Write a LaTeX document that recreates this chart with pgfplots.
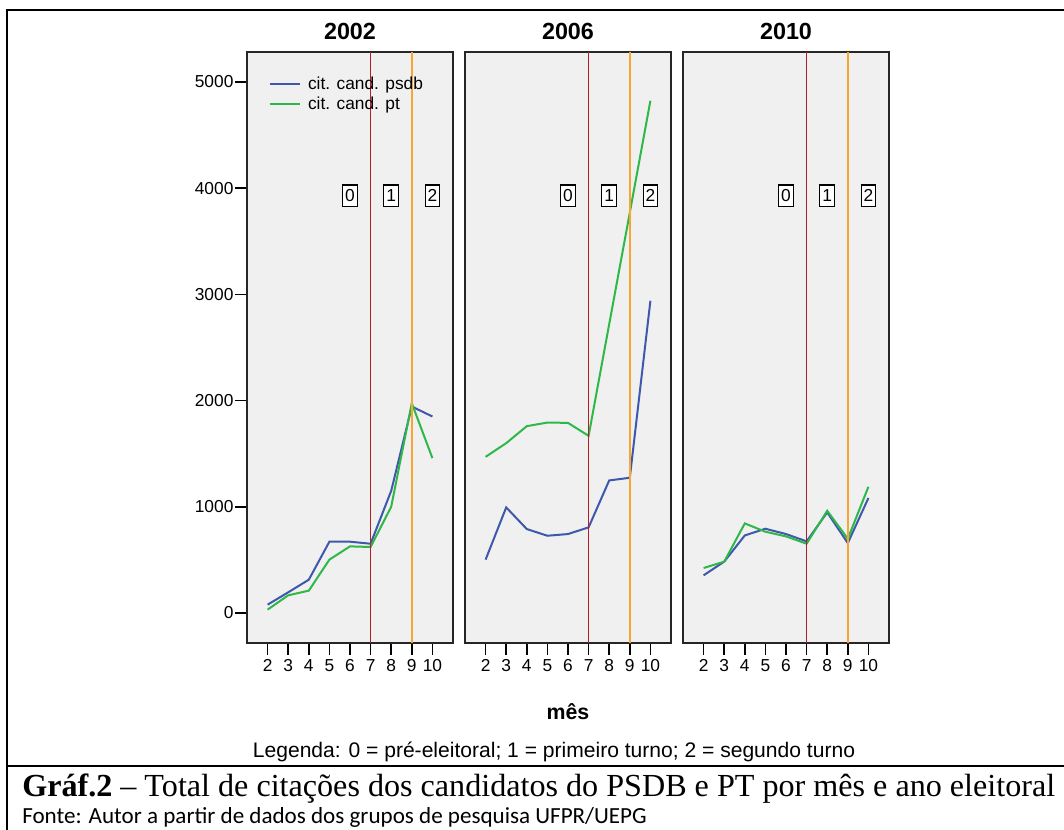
\documentclass[border=0pt]{standalone}
\usepackage{pgfplots}
\pgfplotsset{compat=1.18}
\usepackage{fontspec}
\setmainfont{Liberation Sans}
\newfontfamily\capserif{Liberation Serif}
\newfontfamily\calib{Carlito}
\definecolor{psdb}{RGB}{62,88,172}
\definecolor{ptc}{RGB}{46,184,72}
\definecolor{vred}{RGB}{178,30,36}
\definecolor{vorange}{RGB}{248,165,50}
\definecolor{panelbg}{RGB}{240,240,240}

\pgfplotstableread{
mes psdb pt
2 78 31
3 194 166
4 313 210
5 671 502
6 671 627
7 652 621
8 1150 1000
9 1944 1975
10 1850 1458
}\tabA
\pgfplotstableread{
mes psdb pt
2 502 1470
3 994 1599
4 790 1759
5 727 1793
6 743 1790
7 806 1668
8 1248 2720
9 1273 3770
10 2940 4824
}\tabB
\pgfplotstableread{
mes psdb pt
2 354 423
3 483 483
4 730 843
5 793 765
6 743 721
7 674 652
8 947 962
9 658 699
10 1082 1188
}\tabC

\pgfplotsset{panel/.style={
  scale only axis, width=154.5pt, height=443.25pt,
  xmin=1, xmax=11, ymin=-283, ymax=5283,
  axis background/.style={fill=panelbg},
  axis line style={line width=1.1pt, black!85},
  xtick={2,...,10},
  tick align=outside, major tick length=9pt,
  every tick/.style={black, line width=1.2pt},
  xtick pos=bottom, ytick pos=left,
  /pgf/number format/assume math mode=true,
  /pgf/number format/1000 sep={},
  ticklabel style={font=\fontsize{13}{13}\selectfont},
  yticklabel style={inner sep=1pt},
  title style={at={(0.5,1)}, anchor=base, yshift=3.5pt, font=\fontsize{17.5}{17.5}\selectfont\bfseries},
  every axis plot/.append style={line width=1.5pt, mark=none},
  anchor=south west,
}}
\tikzset{segbox/.style={draw=black, fill=white, line width=0.8pt, inner sep=0pt,
      minimum width=11pt, minimum height=16pt, font=\fontsize{13}{13}\selectfont}}

\newcommand{\panelextras}{%
  \draw[vred, line width=1.1pt] (axis cs:7,-283) -- (axis cs:7,5283);
  \draw[vorange, line width=1.1pt] (axis cs:9,-283) -- (axis cs:9,5283);
  \node[segbox] at (axis cs:6,3930) {0};
  \node[segbox] at (axis cs:8,3930) {1};
  \node[segbox] at (axis cs:10,3930) {2};
}

\begin{document}
\begin{tikzpicture}
\useasboundingbox (0pt,0pt) rectangle (798pt,622.5pt);
% frame
\draw[line width=1.5pt] (5.25pt,-5pt) -- (5.25pt,615pt) -- (810pt,615pt);
\draw[line width=1.5pt] (5.25pt,48pt) -- (810pt,48pt);

\begin{axis}[panel, at={(185.25pt,140.25pt)}, title={2002},
  ytick={0,1000,...,5000},
  legend style={at={(0.104,0.961)}, anchor=north west, draw=none, fill=none,
    font=\fontsize{13}{13}\selectfont, inner sep=0pt, row sep=2pt,
    nodes={inner sep=1pt}},
  legend cell align=left,
  legend image code/.code={\draw[#1] (0pt,0pt) -- (23pt,0pt); \path (27pt,0pt);}]
\addplot[psdb] table[x=mes, y=psdb] {\tabA};
\addlegendentry{cit. cand. psdb}
\addplot[ptc] table[x=mes, y=pt] {\tabA};
\addlegendentry{cit. cand. pt}
\panelextras
\end{axis}

\begin{axis}[panel, at={(348.75pt,140.25pt)}, title={2006}, ytick=\empty]
\addplot[psdb] table[x=mes, y=psdb] {\tabB};
\addplot[ptc] table[x=mes, y=pt] {\tabB};
\panelextras
\end{axis}

\begin{axis}[panel, at={(512.25pt,140.25pt)}, title={2010}, ytick=\empty]
\addplot[psdb] table[x=mes, y=psdb] {\tabC};
\addplot[ptc] table[x=mes, y=pt] {\tabC};
\panelextras
\end{axis}

\node[font=\fontsize{16}{16}\selectfont\bfseries] at (426pt,88.5pt) {mês};
\node[anchor=base, font=\fontsize{15.8}{15.8}\selectfont] at (415.5pt,54pt)
  {Legenda: 0 = pré-eleitoral; 1 = primeiro turno; 2 = segundo turno};
\node[anchor=base west, inner sep=0pt, font=\capserif\fontsize{24.1}{24.1}\selectfont] at (16.5pt,24.75pt)
  {\textbf{Gráf.2} – Total de citações dos candidatos do PSDB e PT por mês e ano eleitoral};
\node[anchor=base west, inner sep=0pt, font=\calib\fontsize{17.3}{17.3}\selectfont] at (16.5pt,4.5pt)
  {Fonte: Autor a partir de dados dos grupos de pesquisa UFPR/UEPG};
\end{tikzpicture}
\end{document}
